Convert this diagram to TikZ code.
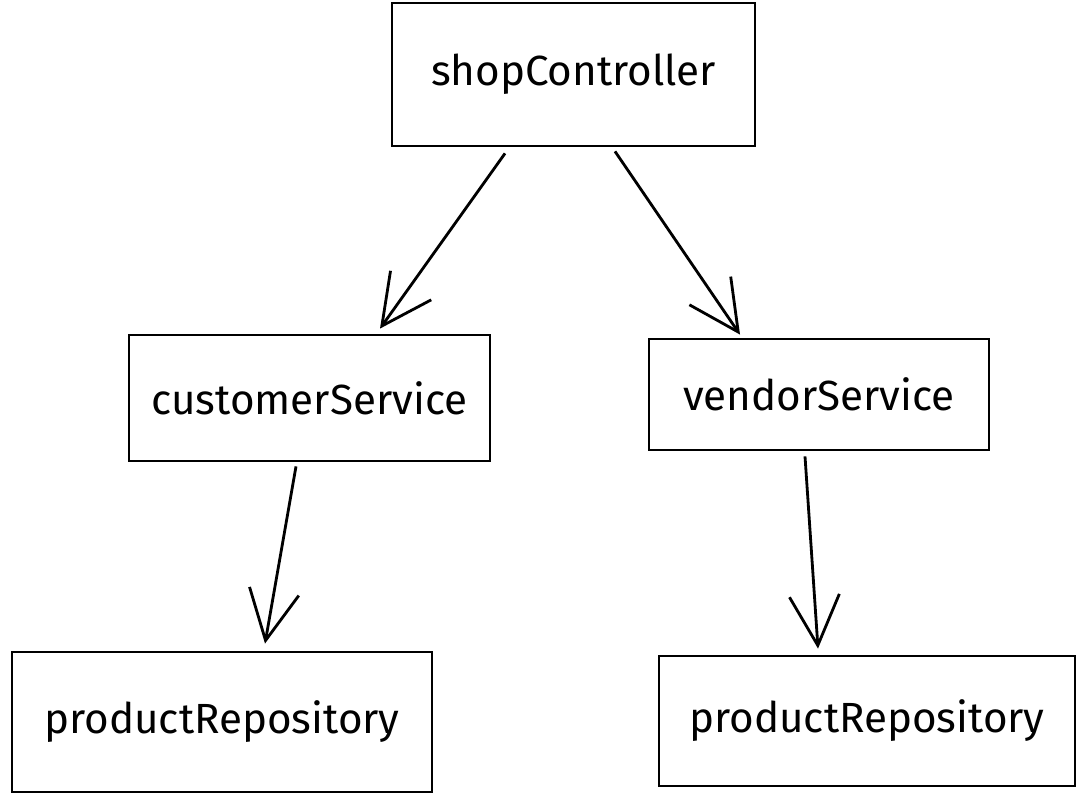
\documentclass[tikz,border=0pt]{standalone}
\usepackage{fontspec}
\setmainfont{Fira Sans}
\usetikzlibrary{arrows.meta}
\tikzset{
  box/.style={draw, thick, inner sep=0pt, font=\fontsize{12}{14}\selectfont},
  dep/.style={thick, -{Straight Barb[length=5mm,width=5mm]}}
}
\begin{document}
\begin{tikzpicture}
			\useasboundingbox (0,0) rectangle (10.8,8);
			% top layer
			\node[box, minimum width=3.63cm, minimum height=1.43cm] (shop) at (5.735,7.255) {shopController};
			% services
			\node[box, minimum width=3.61cm, minimum height=1.26cm] (customer) at (3.095,4.02) {customerService};
			\node[box, minimum width=3.40cm, minimum height=1.11cm] (vendor) at (8.19,4.055) {vendorService};
			% repositories
			\node[box, minimum width=4.2cm, minimum height=1.4cm] (repoA) at (2.22,0.78) {productRepository};
			\node[box, minimum width=4.16cm, minimum height=1.3cm] (repoB) at (8.67,0.79) {productRepository};
			\draw[dep] ([shift={(-0.685,-0.06)}]shop.south) -- ([shift={(0.705,0.05)}]customer.north);
			\draw[dep] ([shift={(0.415,-0.04)}]shop.south) -- ([shift={(-0.79,0.03)}]vendor.north);
			\draw[dep] ([shift={(-0.135,-0.04)}]customer.south) -- ([shift={(0.43,0.07)}]repoA.north);
			\draw[dep] ([shift={(-0.14,-0.05)}]vendor.south) -- ([shift={(-0.49,0.06)}]repoB.north);
\end{tikzpicture}
\end{document}
